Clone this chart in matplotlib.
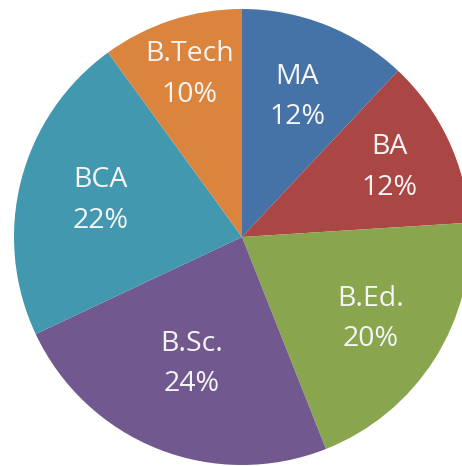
import numpy as np
import matplotlib.pyplot as plt

# course share of students (%)
courses = ['MA', 'BA', 'B.Ed.', 'B.Sc.', 'BCA', 'B.Tech']
shares = [12, 12, 20, 24, 22, 10]
colors = ['#4572A7', '#AA4643', '#89A54E', '#71588F', '#4198AF', '#DB843D']

# label distance from centre, as fraction of radius (best fit look)
label_r = [0.66, 0.715, 0.67, 0.60, 0.64, 0.75]

W, H = 462, 466
cx, cy, R = 242, 237, 228  # pixel centre and radius

fig = plt.figure(figsize=(W / 100, H / 100), dpi=100)
ax = fig.add_axes([0, 0, 1, 1])

wedges, _ = ax.pie(shares, colors=colors, startangle=90, counterclock=False,
                   radius=1.0, center=(0, 0), wedgeprops=dict(linewidth=0))

for w, name, val, r in zip(wedges, courses, shares, label_r):
	mid = np.deg2rad((w.theta1 + w.theta2) / 2)
	ax.text(r * np.cos(mid), r * np.sin(mid), f'{name}\n{val}%',
			ha='center', va='center', color='#F5F5F5', fontsize=20.5,
			family='Open Sans', linespacing=1.6)

ax.set_aspect('auto')
ax.set_xlim(-cx / R, (W - cx) / R)
ax.set_ylim(-(H - cy) / R, cy / R)
ax.axis('off')

fig.savefig('out.png', dpi=100, facecolor='white')
